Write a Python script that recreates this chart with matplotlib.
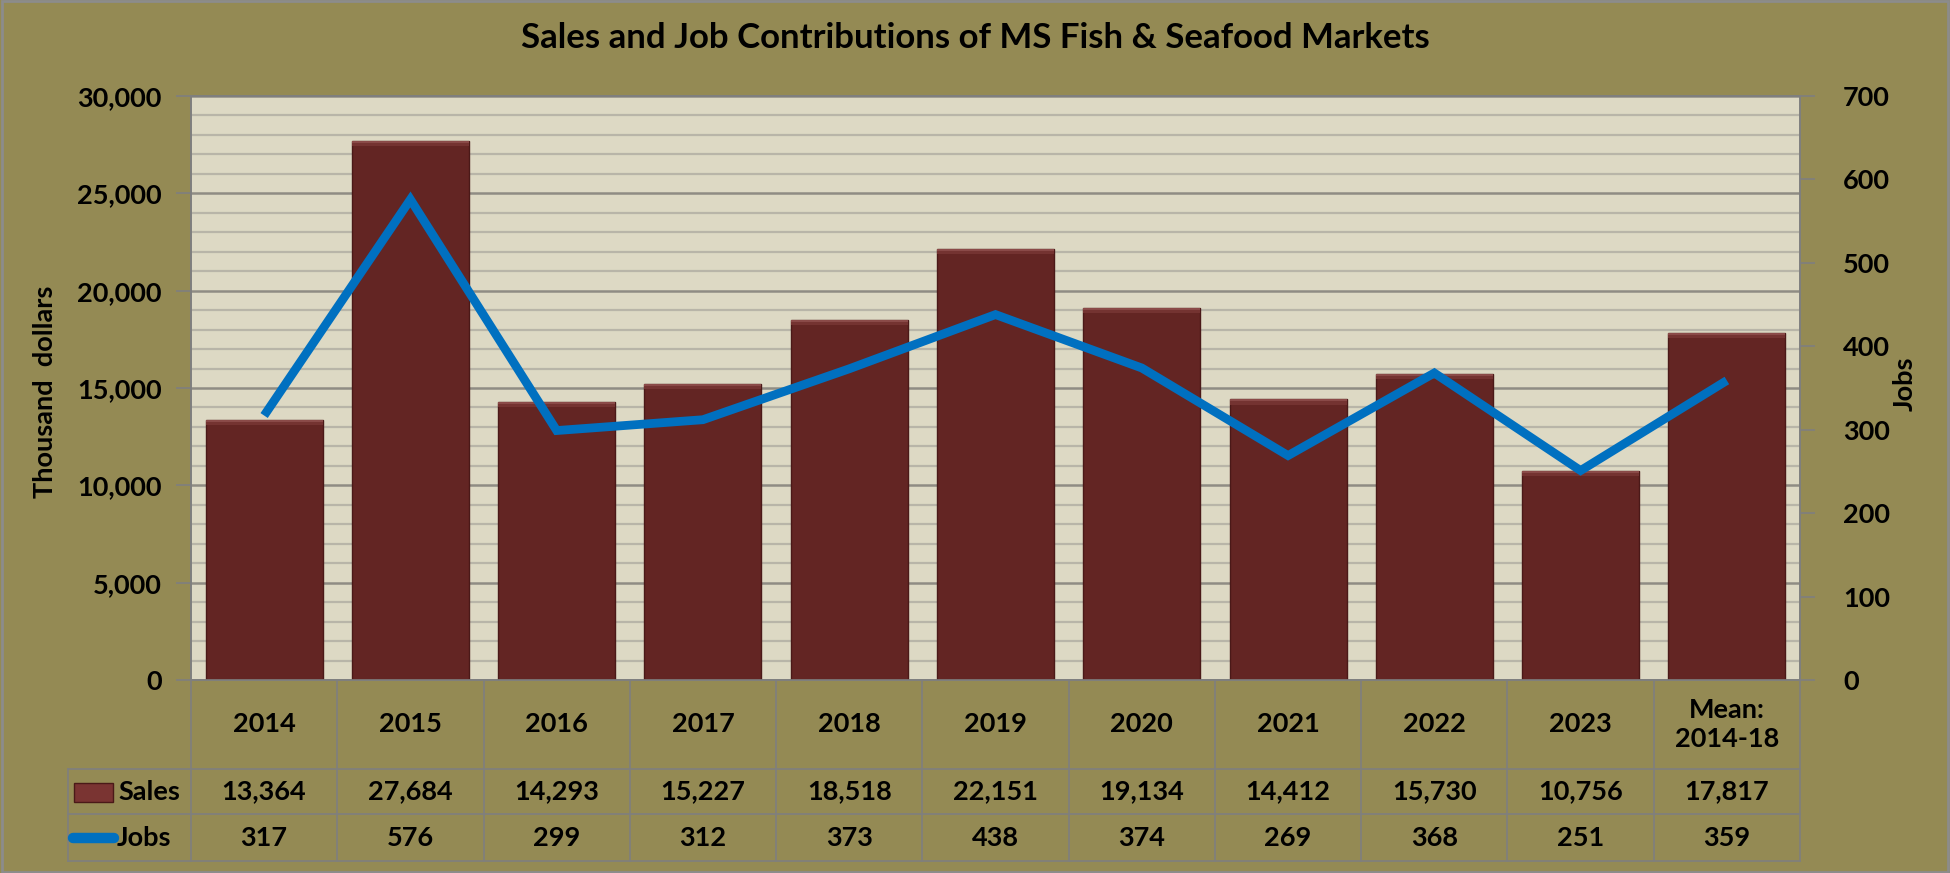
import matplotlib
matplotlib.use("Agg")
import matplotlib.pyplot as plt
import matplotlib.transforms as mtransforms
from matplotlib.lines import Line2D
from matplotlib.patches import Rectangle
from matplotlib.ticker import MultipleLocator, FuncFormatter

plt.rcParams['font.family'] = ['Lato', 'DejaVu Sans']
plt.rcParams['font.weight'] = 'bold'

# data
categories = ["2014", "2015", "2016", "2017", "2018", "2019", "2020", "2021", "2022", "2023", "Mean:\n2014-18"]
sales = [13364, 27684, 14293, 15227, 18518, 22151, 19134, 14412, 15730, 10756, 17817]
jobs = [317, 576, 299, 312, 373, 438, 374, 269, 368, 251, 359]

bg = "#948A54"
plot_bg = "#DDD9C4"
bar_col = "#632523"
line_col = "#0070C0"
grid_col = "#7F7F7F"

W, H = 1950, 873
fig = plt.figure(figsize=(W / 100, H / 100), dpi=100, facecolor=bg)

# axes box in pixels
x0, x1 = 191, 1800
y_top, y_bot = 96, 680
ax = fig.add_axes([x0 / W, 1 - y_bot / H, (x1 - x0) / W, (y_bot - y_top) / H])
ax.set_facecolor(plot_bg)

x = list(range(len(categories)))
ax.bar(x, sales, width=0.8, color=bar_col, edgecolor="#4A1918", linewidth=1.0, zorder=3)
# soft bevel on bar tops
bevel = 260
ax.bar(x, [bevel] * len(x), bottom=[s - bevel for s in sales], width=0.8,
       color="#743331", edgecolor="none", zorder=4)
ax.bar(x, [bevel * 0.4] * len(x), bottom=[s - bevel * 0.4 for s in sales], width=0.8,
       color="#8A4A48", edgecolor="none", zorder=4)

ax.set_xlim(-0.5, len(categories) - 0.5)
ax.set_ylim(0, 30000)
ax.yaxis.set_major_locator(MultipleLocator(5000))
ax.yaxis.set_minor_locator(MultipleLocator(1000))
ax.yaxis.set_major_formatter(FuncFormatter(lambda v, p: f"{int(v):,}"))
ax.grid(axis="y", which="minor", color="#B8B5A8", linewidth=1.6, zorder=0)
ax.grid(axis="y", which="major", color="#8F8C84", linewidth=1.8, zorder=0)
ax.set_axisbelow(True)
ax.set_xticks([])
ax.tick_params(axis="y", which="major", length=11, width=1.2, color=grid_col,
               labelsize=19.5, pad=10)
ax.tick_params(axis="y", which="minor", length=0)
for s in ax.spines.values():
    s.set_color(grid_col)
    s.set_linewidth(1.2)

ax2 = ax.twinx()
ax2.plot(x, jobs, color=line_col, linewidth=6.3, solid_joinstyle="miter",
         solid_capstyle="butt", zorder=5)
ax2.set_ylim(0, 700)
ax2.yaxis.set_major_locator(MultipleLocator(100))
ax2.tick_params(axis="y", length=11, width=1.2, color=grid_col, labelsize=19.5, pad=20)
for s in ax2.spines.values():
    s.set_color(grid_col)
    s.set_linewidth(1.2)

# titles
fig.text(0.5, 1 - 38 / H, "Sales and Job Contributions of MS Fish & Seafood Markets",
         ha="center", va="center", fontsize=25, fontweight="bold")
fig.text(45 / W, 1 - 392 / H, "Thousand  dollars", rotation=90, ha="center",
         va="center", fontsize=19.5, fontweight="bold")
fig.text(1905 / W, 1 - 384 / H, "Jobs", rotation=90, ha="center", va="center",
         fontsize=19.5, fontweight="bold")

# data table under the axes
trans = mtransforms.blended_transform_factory(ax.transData, ax.transAxes)
ah = y_bot - y_top


def ay(py):
    return -(py - y_bot) / ah


row_hdr, row_sales, row_jobs, row_end = 680, 769, 814, 861
tbl_left = 68
lw_tbl = 1.2
for i in range(len(categories) + 1):
    ax.add_line(Line2D([i - 0.5, i - 0.5], [ay(row_hdr), ay(row_end)], transform=trans,
                       color=grid_col, linewidth=lw_tbl, clip_on=False))
for py in (row_sales, row_jobs, row_end):
    fig.add_artist(Line2D([tbl_left / W, x1 / W], [1 - py / H, 1 - py / H],
                          color=grid_col, linewidth=lw_tbl))
fig.add_artist(Line2D([tbl_left / W, tbl_left / W], [1 - row_sales / H, 1 - row_end / H],
                      color=grid_col, linewidth=lw_tbl))

for i, c in enumerate(categories):
    ax.text(i, ay((row_hdr + row_sales) / 2), c, transform=trans, ha="center", va="center",
            fontsize=19.5, fontweight="bold", linespacing=1.25)
    ax.text(i, ay((row_sales + row_jobs) / 2), f"{sales[i]:,}", transform=trans,
            ha="center", va="center", fontsize=19.5, fontweight="bold")
    ax.text(i, ay((row_jobs + row_end) / 2), f"{jobs[i]}", transform=trans,
            ha="center", va="center", fontsize=19.5, fontweight="bold")

# legend keys in the table
fig.add_artist(Rectangle((74 / W, 1 - 802 / H), 39 / W, 19 / H, facecolor="#7A3432",
                         edgecolor="#4A1918", linewidth=1.0))
fig.add_artist(Line2D([73 / W, 114 / W], [1 - 838 / H, 1 - 838 / H], color=line_col,
                      linewidth=7.5, solid_capstyle="round"))
fig.text(118 / W, 1 - (row_sales + row_jobs) / 2 / H, "Sales", ha="left", va="center",
         fontsize=19.5, fontweight="bold")
fig.text(117 / W, 1 - (row_jobs + row_end) / 2 / H, "Jobs", ha="left", va="center",
         fontsize=19.5, fontweight="bold")

# outer border
fig.add_artist(Rectangle((0.0008, 0.0015), 0.9984, 0.997, fill=False,
                         edgecolor="#8C8C8C", linewidth=2))

fig.savefig("out.png", dpi=100, facecolor=bg)
